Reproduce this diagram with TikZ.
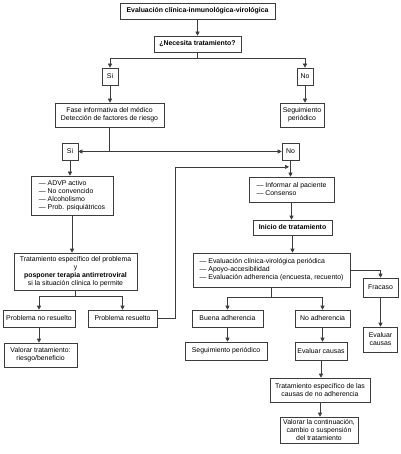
\documentclass[tikz,border=0pt]{standalone}
\usepackage{fontspec}
\setmainfont{Liberation Sans}
\usepackage{tikz}
\usetikzlibrary{arrows.meta,calc}
\definecolor{lnegray}{RGB}{60,60,60}

\begin{document}
\begin{tikzpicture}[x=1pt,y=-1pt,
  box/.style={draw=lnegray,line width=0.6pt,inner sep=1pt,align=center,font=\fontsize{6.9}{8}\selectfont},
  lst/.style={box,align=left},
  bld/.style={box,font=\fontsize{6.9}{8}\selectfont\bfseries},
  arr/.style={-{Triangle[length=4pt,width=4pt]},line width=0.6pt,lnegray},
  lne/.style={line width=0.6pt,lnegray}]
  \useasboundingbox (0,0) rectangle (400,454);
  % Top
  \node[bld,minimum width=155,minimum height=16] (eval) at (197.5,11) {Evaluación clínica-inmunológica-virológica};
  \node[bld,minimum width=87,minimum height=16] (nec) at (197.5,44) {¿Necesita tratamiento?};
  \draw[arr] (eval) -- (nec);
  \node[box,minimum width=16,minimum height=17] (si1) at (110,76.5) {Si};
  \node[box,minimum width=16,minimum height=17] (no1) at (305,76.5) {No};
  \draw[lne] (nec.south) -- ++(0,6) coordinate (nb);
  \draw[lne] (nb -| si1) -- (nb -| no1);
  \draw[arr] (nb -| si1) -- (si1.north);
  \draw[arr] (nb -| no1) -- (no1.north);
  % Second level
  \node[box,minimum width=109,minimum height=24] (fase) at (109.5,115) {Fase informativa del médico\\Detección de factores de riesgo};
  \node[box,minimum width=44,minimum height=24] (seg1) at (302,115) {Seguimiento\\periódico};
  \draw[arr] (si1.south) -- (si1.south |- fase.north);
  \draw[arr] (no1.south) -- (no1.south |- seg1.north);
  \node[box,minimum width=16,minimum height=17] (si2) at (70,151.5) {Si};
  \node[box,minimum width=17,minimum height=17] (no2) at (290.5,151.5) {No};
  \draw[lne] (fase.south) -- (fase.south |- si2.east);
  \draw[arr] (fase.south |- si2.east) -- (si2.east);
  \draw[arr] (fase.south |- no2.west) -- (no2.west);
  % Left branch
  \node[lst,minimum width=82,minimum height=39] (advp) at (72,195.5) {\textemdash\ ADVP activo\\\textemdash\ No convencido\\\textemdash\ Alcoholismo\\\textemdash\ Prob. psiquiátricos};
  \draw[arr] (si2.south) -- (si2.south |- advp.north);
  \node[box,minimum width=123,minimum height=37] (trat) at (75.5,271.5) {Tratamiento específico del problema\\y\\\textbf{posponer terapia antirretroviral}\\si la situación clínica lo permite};
  \draw[arr] (advp.south) -- (advp.south |- trat.north);
  \node[box,minimum width=72,minimum height=17] (pnr) at (39,318.5) {Problema no resuelto};
  \node[box,minimum width=69,minimum height=17] (pr) at (122.5,318.5) {Problema resuelto};
  \draw[lne] (trat.south) -- ++(0,6) coordinate (tb);
  \draw[lne] (tb -| pnr) -- (tb -| pr);
  \draw[arr] (tb -| pnr) -- (pnr.north);
  \draw[arr] (tb -| pr) -- (pr.north);
  \node[box,minimum width=73,minimum height=24] (valtrat) at (40.5,355) {Valorar tratamiento:\\riesgo/beneficio};
  \draw[arr] (pnr.south) -- (pnr.south |- valtrat.north);
  % Right branch
  \node[lst,minimum width=85,minimum height=25] (inf) at (291.5,189.5) {\textemdash\ Informar al paciente\\\textemdash\ Consenso};
  \draw[arr] (no2.south) -- (no2.south |- inf.north);
  \coordinate (lp) at ($(no2.south)!0.4!(no2.south |- inf.north)$);
  \draw[arr] (pr.east) -- ++(18,0) |- ([xshift=-1.5pt]lp);
  \node[bld,minimum width=79,minimum height=15] (ini) at (292.5,227.5) {Inicio de tratamiento};
  \draw[arr] (inf.south) -- (inf.south |- ini.north);
  \node[lst,minimum width=157,minimum height=34] (evc) at (271.5,270) {\textemdash\ Evaluación clínica-virológica periódica\\\textemdash\ Apoyo-accesibilidad\\\textemdash\ Evaluación adherencia (encuesta, recuento)};
  \draw[arr] (ini.south) -- (ini.south |- evc.north);
  \node[box,minimum width=35,minimum height=19] (frac) at (380.5,287.5) {Fracaso};
  \draw[arr] (evc.east) -| (frac.north);
  \node[box,minimum width=34,minimum height=25] (evcau1) at (380.5,339.5) {Evaluar\\causas};
  \draw[arr] (frac) -- (evcau1);
  \node[box,minimum width=71,minimum height=17] (buena) at (227.5,318.5) {Buena adherencia};
  \node[box,minimum width=55,minimum height=17] (noadh) at (322.5,318.5) {No adherencia};
  \draw[lne] (evc.south) -- ++(0,10) coordinate (eb);
  \draw[lne] (eb -| buena) -- (eb -| noadh);
  \draw[arr] (eb -| buena) -- (buena.north);
  \draw[arr] (eb -| noadh) -- (noadh.north);
  \node[box,minimum width=82,minimum height=18] (segper) at (226,351) {Seguimiento periódico};
  \draw[arr] (buena.south) -- (buena.south |- segper.north);
  \node[box,minimum width=52,minimum height=18] (evcau2) at (321,351) {Evaluar causas};
  \draw[arr] (noadh.south) -- (noadh.south |- evcau2.north);
  \node[box,minimum width=100,minimum height=24] (tratcau) at (320,390) {Tratamiento específico de las\\causas de no adherencia};
  \draw[arr] (evcau2.south) -- (evcau2.south |- tratcau.north);
  \node[box,minimum width=78,minimum height=26] (valcont) at (319,430) {Valorar la continuación,\\cambio o suspensión\\del tratamiento};
  \draw[arr] (tratcau.south) -- (tratcau.south |- valcont.north);
\end{tikzpicture}
\end{document}
